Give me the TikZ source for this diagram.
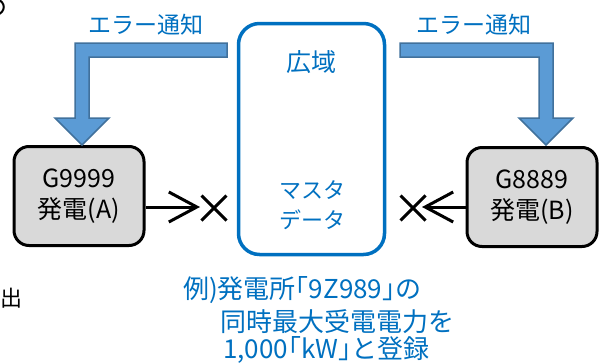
\documentclass[tikz,border=0pt]{standalone}
\usepackage{fontspec}
\setmainfont{Noto Sans CJK JP}
\usetikzlibrary{arrows.meta,shapes.misc}
\definecolor{txtblue}{RGB}{0,112,192}
\definecolor{arrfill}{RGB}{91,155,213}
\definecolor{arrline}{RGB}{65,113,156}
\definecolor{boxgray}{RGB}{217,217,217}
\tikzset{
  genbox/.style={draw=black,fill=boxgray,line width=3pt,rounded corners=15pt,
    minimum width=130pt,minimum height=99pt,align=center,inner sep=0pt,
    font=\fontsize{25}{31}\selectfont},
  masterbox/.style={draw=txtblue,line width=3.5pt,rounded corners=21pt,
    minimum width=146pt,minimum height=231pt},
  bluetxt/.style={text=txtblue,inner sep=0pt},
  notetxt/.style={bluetxt,anchor=west,font=\fontsize{26}{26}\selectfont},
  blockarrow/.style={fill=arrfill,draw=arrline,line width=1.5pt,line join=miter},
  crossmark/.style={cross out,draw=black,line width=3pt,minimum size=22pt,inner sep=0pt},
  flowarrow/.style={draw=black,line width=3pt,-{Straight Barb[length=28pt,width=30pt,line width=3pt]}}
}
\begin{document}
\begin{tikzpicture}[x=1pt,y=-1pt]
\useasboundingbox (0,0) rectangle (601,362);
% clipped fragment at top-left
\draw[line width=2pt] (-3,-1) .. controls (6,2) and (6,12) .. (-3,15);
% left margin character
\node[inner sep=0pt,font=\fontsize{22}{22}\selectfont] (de) at (12,298) {出};

% central master box
\node[masterbox] (master) at (311.5,139) {};
\node[bluetxt,font=\fontsize{25}{25}\selectfont] (kouiki) at (311.5,62) {広域};
\node[bluetxt,font=\fontsize{22}{30}\selectfont,align=center] (mdata) at (312,205) {マスタ\\データ};

% generator boxes
\node[genbox] (gA) at (79,196) {G9999\\発電(A)};
\node[genbox] (gB) at (532,197) {G8889\\発電(B)};

% error notification block arrows
\draw[blockarrow] (227,43) -- (75,43) -- (75,118) -- (55,118) -- (82,145) -- (109,118) -- (89,118) -- (89,57) -- (227,57) -- cycle;
\draw[blockarrow] (400,43) -- (553,43) -- (553,118) -- (573,118) -- (546,145) -- (519,118) -- (539,118) -- (539,57) -- (400,57) -- cycle;
\node[bluetxt,font=\fontsize{23}{23}\selectfont] (errL) at (146,25) {エラー通知};
\node[bluetxt,font=\fontsize{23}{23}\selectfont] (errR) at (474,25) {エラー通知};

% blocked connectors
\coordinate (tipA) at (200,207);
\coordinate (tipB) at (422,207);
\draw[flowarrow] (gA.east |- tipA) -- (tipA);
\draw[flowarrow] (gB.west |- tipB) -- (tipB);
\node[crossmark] (xA) at (214,208) {};
\node[crossmark] (xB) at (413,208) {};

% example note
\node[notetxt] (ex1) at (183,290) {例)発電所｢9Z989｣の};
\node[notetxt] (ex2) at (220,322) {同時最大受電電力を};
\node[notetxt] (ex3) at (223,350) {1,000｢kW｣と登録};
\end{tikzpicture}
\end{document}
